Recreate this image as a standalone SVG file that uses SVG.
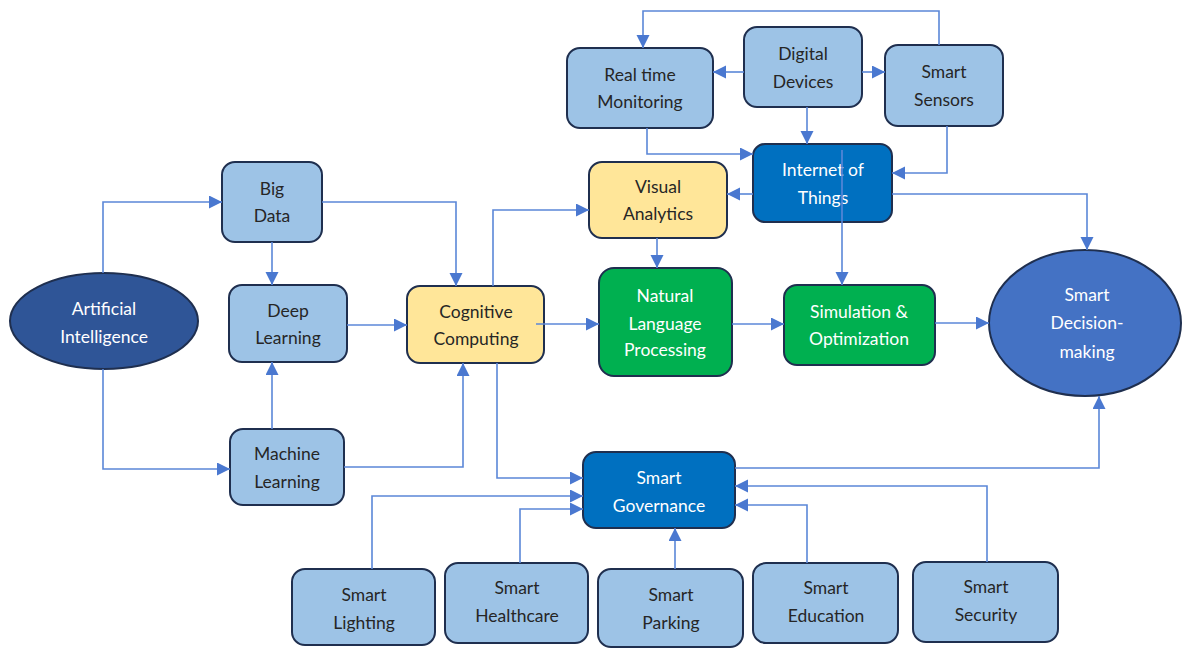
<svg xmlns="http://www.w3.org/2000/svg" width="1182" height="650" viewBox="0 0 1182 650">
  <defs>
    <marker id="arrow" markerUnits="userSpaceOnUse" markerWidth="14" markerHeight="14" refX="13" refY="6.5" orient="auto">
      <path d="M0,0 L13,6.5 L0,13 z" fill="#4A78D0"/>
    </marker>
    <style>
      .box { stroke: #1F2F4F; stroke-width: 2; }
      .light { fill: #9DC3E6; }
      .dark { fill: #0070C0; }
      .yellow { fill: #FFE699; }
      .green { fill: #00B050; }
      .navy { fill: #2F5597; }
      .mid { fill: #4472C4; }
      text { font-family: Lato, "Open Sans", "Liberation Sans", sans-serif; font-size: 17.5px; text-anchor: middle; }
      .tdark { fill: #262626; }
      .tlight { fill: #FFFFFF; }
      .conn { fill: none; stroke: #5B87D8; stroke-width: 1.6; marker-end: url(#arrow); }
    </style>
  </defs>
  <rect width="1182" height="650" fill="#FFFFFF"/>

  <g id="nodes">
    <g id="real-time-monitoring">
      <rect class="box light" x="567" y="48" width="146" height="80" rx="13"/>
      <text class="tdark" x="640" y="81">Real time</text>
      <text class="tdark" x="640" y="108">Monitoring</text>
    </g>
    <g id="digital-devices">
      <rect class="box light" x="744" y="27" width="118" height="80" rx="13"/>
      <text class="tdark" x="803" y="60">Digital</text>
      <text class="tdark" x="803" y="88">Devices</text>
    </g>
    <g id="smart-sensors">
      <rect class="box light" x="885" y="45" width="118" height="81" rx="13"/>
      <text class="tdark" x="944" y="78">Smart</text>
      <text class="tdark" x="944" y="106">Sensors</text>
    </g>
    <g id="internet-of-things">
      <rect class="box dark" x="753" y="144" width="139" height="78" rx="12"/>
      <text class="tlight" x="823" y="176">Internet of</text>
      <text class="tlight" x="823" y="204">Things</text>
    </g>
    <g id="visual-analytics">
      <rect class="box yellow" x="589" y="162" width="138" height="76" rx="13"/>
      <text class="tdark" x="658" y="193">Visual</text>
      <text class="tdark" x="658" y="220">Analytics</text>
    </g>
    <g id="big-data">
      <rect class="box light" x="222" y="162" width="100" height="80" rx="13"/>
      <text class="tdark" x="272" y="195">Big</text>
      <text class="tdark" x="272" y="222">Data</text>
    </g>
    <g id="deep-learning">
      <rect class="box light" x="229" y="285" width="118" height="77" rx="13"/>
      <text class="tdark" x="288" y="317">Deep</text>
      <text class="tdark" x="288" y="344">Learning</text>
    </g>
    <g id="machine-learning">
      <rect class="box light" x="230" y="429" width="114" height="76" rx="13"/>
      <text class="tdark" x="287" y="460">Machine</text>
      <text class="tdark" x="287" y="488">Learning</text>
    </g>
    <g id="artificial-intelligence">
      <ellipse class="box navy" cx="104" cy="321" rx="94" ry="48"/>
      <text class="tlight" x="104" y="315">Artificial</text>
      <text class="tlight" x="104" y="343">Intelligence</text>
    </g>
    <g id="cognitive-computing">
      <rect class="box yellow" x="407" y="286" width="137" height="77" rx="13"/>
      <text class="tdark" x="476" y="318">Cognitive</text>
      <text class="tdark" x="476" y="345">Computing</text>
    </g>
    <g id="natural-language-processing">
      <rect class="box green" x="599" y="268" width="133" height="108" rx="15"/>
      <text class="tlight" x="665" y="302">Natural</text>
      <text class="tlight" x="665" y="330">Language</text>
      <text class="tlight" x="665" y="356">Processing</text>
    </g>
    <g id="simulation-optimization">
      <rect class="box green" x="784" y="285" width="151" height="80" rx="13"/>
      <text class="tlight" x="859" y="318">Simulation &amp;</text>
      <text class="tlight" x="859" y="345">Optimization</text>
    </g>
    <g id="smart-decision-making">
      <ellipse class="box mid" cx="1085" cy="323" rx="96" ry="73"/>
      <text class="tlight" x="1087" y="301">Smart</text>
      <text class="tlight" x="1087" y="329">Decision-</text>
      <text class="tlight" x="1087" y="358">making</text>
    </g>
    <g id="smart-governance">
      <rect class="box dark" x="583" y="452" width="152" height="76" rx="13"/>
      <text class="tlight" x="659" y="484">Smart</text>
      <text class="tlight" x="659" y="512">Governance</text>
    </g>
    <g id="smart-lighting">
      <rect class="box light" x="292" y="569" width="143" height="76" rx="13"/>
      <text class="tdark" x="364" y="601">Smart</text>
      <text class="tdark" x="364" y="629">Lighting</text>
    </g>
    <g id="smart-healthcare">
      <rect class="box light" x="445" y="563" width="143" height="80" rx="13"/>
      <text class="tdark" x="517" y="594">Smart</text>
      <text class="tdark" x="517" y="622">Healthcare</text>
    </g>
    <g id="smart-parking">
      <rect class="box light" x="598" y="569" width="145" height="78" rx="13"/>
      <text class="tdark" x="671" y="601">Smart</text>
      <text class="tdark" x="671" y="629">Parking</text>
    </g>
    <g id="smart-education">
      <rect class="box light" x="753" y="563" width="145" height="80" rx="13"/>
      <text class="tdark" x="826" y="594">Smart</text>
      <text class="tdark" x="826" y="622">Education</text>
    </g>
    <g id="smart-security">
      <rect class="box light" x="913" y="562" width="145" height="80" rx="13"/>
      <text class="tdark" x="986" y="593">Smart</text>
      <text class="tdark" x="986" y="621">Security</text>
    </g>
  </g>

  <g id="connectors">
    <path class="conn" d="M939,45 V11 H643 V48"/>
    <path class="conn" d="M744,72 H713"/>
    <path class="conn" d="M862,72 H885"/>
    <path class="conn" d="M807,107 V144"/>
    <path class="conn" d="M647,128 V154 H753"/>
    <path class="conn" d="M947,126 V173 H892"/>
    <path class="conn" d="M753,194 H727"/>
    <path class="conn" d="M892,194 H1087 V250"/>
    <path class="conn" d="M842,150 V285"/>
    <path class="conn" d="M657,238 V268"/>
    <path class="conn" d="M322,202 H456 V286"/>
    <path class="conn" d="M493,286 V210 H589"/>
    <path class="conn" d="M536,324 H599"/>
    <path class="conn" d="M347,325 H407"/>
    <path class="conn" d="M344,467 H463 V363"/>
    <path class="conn" d="M497,363 V478 H583"/>
    <path class="conn" d="M732,324 H784"/>
    <path class="conn" d="M935,323 H989"/>
    <path class="conn" d="M735,468 H1099 V396"/>
    <path class="conn" d="M103,273 V202 H222"/>
    <path class="conn" d="M103,369 V469 H230"/>
    <path class="conn" d="M272,242 V285"/>
    <path class="conn" d="M272,429 V362"/>
    <path class="conn" d="M372,569 V496 H583"/>
    <path class="conn" d="M520,563 V509 H583"/>
    <path class="conn" d="M675,569 V528"/>
    <path class="conn" d="M807,563 V505 H735"/>
    <path class="conn" d="M987,562 V486 H735"/>
  </g>
</svg>
